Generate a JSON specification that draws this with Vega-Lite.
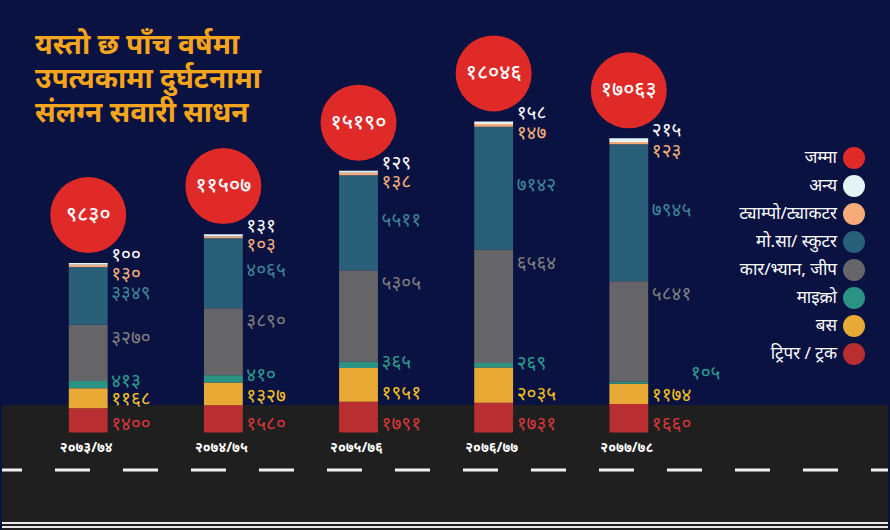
{
  "$schema": "https://vega.github.io/schema/vega-lite/v6.json",
  "width": 890,
  "height": 530,
  "autosize": {"type": "fit", "contains": "padding"},
  "padding": 0,
  "background": "#0a1242",
  "config": {
    "view": {"stroke": null},
    "font": "Noto Sans",
    "locale": {
      "number": {
        "decimal": ".",
        "thousands": ",",
        "grouping": [3],
        "currency": ["", ""],
        "numerals": ["०", "१", "२", "३", "४", "५", "६", "७", "८", "९"]
      }
    }
  },
  "title": {
    "text": ["यस्तो छ पाँच वर्षमा", "उपत्यकामा दुर्घटनामा", "संलग्न सवारी साधन"],
    "anchor": "start",
    "frame": "group",
    "orient": "top",
    "offset": -128,
    "dx": 33,
    "baseline": "top",
    "lineHeight": 34,
    "fontSize": 28,
    "fontWeight": "bold",
    "color": "#f5a51c"
  },
  "datasets": {
    "vehicles": [
      {"year": "२०७३/७४", "type": "ट्रिपर / ट्रक", "value": 1400},
      {"year": "२०७३/७४", "type": "बस", "value": 1168},
      {"year": "२०७३/७४", "type": "माइक्रो", "value": 413},
      {"year": "२०७३/७४", "type": "कार/भ्यान, जीप", "value": 3270},
      {"year": "२०७३/७४", "type": "मो.सा/ स्कुटर", "value": 3349},
      {"year": "२०७३/७४", "type": "ट्याम्पो/ट्याकटर", "value": 130},
      {"year": "२०७३/७४", "type": "अन्य", "value": 100},
      {"year": "२०७४/७५", "type": "ट्रिपर / ट्रक", "value": 1580},
      {"year": "२०७४/७५", "type": "बस", "value": 1327},
      {"year": "२०७४/७५", "type": "माइक्रो", "value": 410},
      {"year": "२०७४/७५", "type": "कार/भ्यान, जीप", "value": 3890},
      {"year": "२०७४/७५", "type": "मो.सा/ स्कुटर", "value": 4065},
      {"year": "२०७४/७५", "type": "ट्याम्पो/ट्याकटर", "value": 103},
      {"year": "२०७४/७५", "type": "अन्य", "value": 131},
      {"year": "२०७५/७६", "type": "ट्रिपर / ट्रक", "value": 1791},
      {"year": "२०७५/७६", "type": "बस", "value": 1951},
      {"year": "२०७५/७६", "type": "माइक्रो", "value": 365},
      {"year": "२०७५/७६", "type": "कार/भ्यान, जीप", "value": 5305},
      {"year": "२०७५/७६", "type": "मो.सा/ स्कुटर", "value": 5511},
      {"year": "२०७५/७६", "type": "ट्याम्पो/ट्याकटर", "value": 138},
      {"year": "२०७५/७६", "type": "अन्य", "value": 129},
      {"year": "२०७६/७७", "type": "ट्रिपर / ट्रक", "value": 1731},
      {"year": "२०७६/७७", "type": "बस", "value": 2035},
      {"year": "२०७६/७७", "type": "माइक्रो", "value": 269},
      {"year": "२०७६/७७", "type": "कार/भ्यान, जीप", "value": 6564},
      {"year": "२०७६/७७", "type": "मो.सा/ स्कुटर", "value": 7142},
      {"year": "२०७६/७७", "type": "ट्याम्पो/ट्याकटर", "value": 147},
      {"year": "२०७६/७७", "type": "अन्य", "value": 158},
      {"year": "२०७७/७८", "type": "ट्रिपर / ट्रक", "value": 1660},
      {"year": "२०७७/७८", "type": "बस", "value": 1174},
      {"year": "२०७७/७८", "type": "माइक्रो", "value": 105},
      {"year": "२०७७/७८", "type": "कार/भ्यान, जीप", "value": 5841},
      {"year": "२०७७/७८", "type": "मो.सा/ स्कुटर", "value": 7945},
      {"year": "२०७७/७८", "type": "ट्याम्पो/ट्याकटर", "value": 123},
      {"year": "२०७७/७८", "type": "अन्य", "value": 215}
    ],
    "totals": [
      {"year": "२०७३/७४", "total": 9830},
      {"year": "२०७४/७५", "total": 11507},
      {"year": "२०७५/७६", "total": 15190},
      {"year": "२०७६/७७", "total": 18046},
      {"year": "२०७७/७८", "total": 17063}
    ]
  },
  "layer": [
    {
      "data": {"values": [{}]},
      "mark": {"type": "rect", "color": "#1f1f1f"},
      "encoding": {
        "y": {"datum": 1595, "type": "quantitative", "scale": {"domain": [-5655, 25087], "nice": false, "zero": false}, "axis": null},
        "y2": {"datum": -5655}
      }
    },
    {
      "data": {"values": [{}]},
      "mark": {"type": "rule", "color": "#f2f2f2", "strokeWidth": 3, "strokeDash": [35, 33], "strokeDashOffset": 18},
      "encoding": {
        "y": {"datum": -2175, "type": "quantitative", "scale": {"domain": [-5655, 25087], "nice": false, "zero": false}, "axis": null}
      }
    },
    {
      "data": {"values": [{"edge": -5249}, {"edge": -5481}]},
      "mark": {"type": "rule", "color": "#e8e8e8", "strokeWidth": 2},
      "encoding": {
        "y": {"field": "edge", "type": "quantitative", "scale": {"domain": [-5655, 25087], "nice": false, "zero": false}, "axis": null}
      }
    },
    {
      "data": {"name": "vehicles"},
      "transform": [
        {"calculate": "indexof(['ट्रिपर / ट्रक','बस','माइक्रो','कार/भ्यान, जीप','मो.सा/ स्कुटर','ट्याम्पो/ट्याकटर','अन्य'], datum.type)", "as": "k"},
        {"stack": "value", "groupby": ["year"], "sort": [{"field": "k", "order": "ascending"}], "as": ["v0", "v1"]},
        {"calculate": "(datum.v0 + datum.v1) / 2", "as": "mid"}
      ],
      "encoding": {
        "x": {
          "field": "year", "type": "nominal", "axis": null, "sort": null,
          "scale": {"type": "band", "domain": ["२०७३/७४", "२०७४/७५", "२०७५/७६", "२०७६/७७", "२०७७/७८"], "paddingInner": 0.444, "paddingOuter": 1, "align": 0.18}
        }
      },
      "layer": [
        {
          "mark": {"type": "bar", "opacity": 1, "width": {"band": 0.517}},
          "encoding": {
            "y": {"field": "v0", "type": "quantitative", "scale": {"domain": [-5655, 25087], "nice": false, "zero": false}, "axis": null},
            "y2": {"field": "v1"},
            "color": {
              "field": "type", "type": "nominal",
              "scale": {
                "domain": ["जम्मा", "अन्य", "ट्याम्पो/ट्याकटर", "मो.सा/ स्कुटर", "कार/भ्यान, जीप", "माइक्रो", "बस", "ट्रिपर / ट्रक"],
                "range": ["#e02a28", "#e4f3f3", "#f7ab78", "#2a5f7a", "#666668", "#2a9384", "#e9a935", "#b82e31"]
              },
              "legend": {
                "title": null, "orient": "none", "legendX": 841, "legendY": 147,
                "symbolType": "circle", "symbolSize": 484, "symbolStrokeWidth": 0, "symbolOpacity": 1,
                "labelAlign": "right", "labelOffset": -28, "labelColor": "#ffffff", "labelFontSize": 17,
                "labelLimit": 300, "rowPadding": 6, "padding": 0
              }
            }
          }
        },
        {
          "transform": [{"filter": "datum.k == 0"}],
          "mark": {"type": "text", "align": "left", "baseline": "middle", "dx": 23, "dy": -9, "fontSize": 19, "color": "#d8373a"},
          "encoding": {
            "y": {"field": "v0", "type": "quantitative", "scale": {"domain": [-5655, 25087], "nice": false, "zero": false}, "axis": null},
            "text": {"field": "value", "type": "quantitative", "format": "d"}
          }
        },
        {
          "transform": [{"filter": "datum.k == 1"}],
          "mark": {"type": "text", "align": "left", "baseline": "middle", "dx": 23, "dy": -9, "fontSize": 19, "color": "#f5c21b"},
          "encoding": {
            "y": {"field": "v0", "type": "quantitative", "scale": {"domain": [-5655, 25087], "nice": false, "zero": false}, "axis": null},
            "text": {"field": "value", "type": "quantitative", "format": "d"}
          }
        },
        {
          "transform": [{"filter": "datum.k == 2 && datum.value >= 200"}],
          "mark": {"type": "text", "align": "left", "baseline": "middle", "dx": 23, "dy": 0, "fontSize": 19, "color": "#2aa08f"},
          "encoding": {
            "y": {"field": "v1", "type": "quantitative", "scale": {"domain": [-5655, 25087], "nice": false, "zero": false}, "axis": null},
            "text": {"field": "value", "type": "quantitative", "format": "d"}
          }
        },
        {
          "transform": [{"filter": "datum.k == 2 && datum.value < 200"}],
          "mark": {"type": "text", "align": "left", "baseline": "middle", "dx": 62, "dy": -9, "fontSize": 19, "color": "#2aa08f"},
          "encoding": {
            "y": {"field": "v1", "type": "quantitative", "scale": {"domain": [-5655, 25087], "nice": false, "zero": false}, "axis": null},
            "text": {"field": "value", "type": "quantitative", "format": "d"}
          }
        },
        {
          "transform": [{"filter": "datum.k == 3"}],
          "mark": {"type": "text", "align": "left", "baseline": "middle", "dx": 23, "dy": 13, "fontSize": 19, "color": "#808080"},
          "encoding": {
            "y": {"field": "v1", "type": "quantitative", "scale": {"domain": [-5655, 25087], "nice": false, "zero": false}, "axis": null},
            "text": {"field": "value", "type": "quantitative", "format": "d"}
          }
        },
        {
          "transform": [{"filter": "datum.k == 4"}],
          "mark": {"type": "text", "align": "left", "baseline": "middle", "dx": 23, "dy": -3, "fontSize": 19, "color": "#3d8797"},
          "encoding": {
            "y": {"field": "mid", "type": "quantitative", "scale": {"domain": [-5655, 25087], "nice": false, "zero": false}, "axis": null},
            "text": {"field": "value", "type": "quantitative", "format": "d"}
          }
        },
        {
          "transform": [{"filter": "datum.k == 5"}],
          "mark": {"type": "text", "align": "left", "baseline": "middle", "dx": 23, "dy": 9, "fontSize": 19, "color": "#f6b07a"},
          "encoding": {
            "y": {"field": "v1", "type": "quantitative", "scale": {"domain": [-5655, 25087], "nice": false, "zero": false}, "axis": null},
            "text": {"field": "value", "type": "quantitative", "format": "d"}
          }
        },
        {
          "transform": [{"filter": "datum.k == 6"}],
          "mark": {"type": "text", "align": "left", "baseline": "middle", "dx": 23, "dy": -8, "fontSize": 19, "color": "#ffffff"},
          "encoding": {
            "y": {"field": "v1", "type": "quantitative", "scale": {"domain": [-5655, 25087], "nice": false, "zero": false}, "axis": null},
            "text": {"field": "value", "type": "quantitative", "format": "d"}
          }
        }
      ]
    },
    {
      "data": {"name": "totals"},
      "encoding": {
        "x": {
          "field": "year", "type": "nominal", "axis": null, "sort": null,
          "scale": {"type": "band", "domain": ["२०७३/७४", "२०७४/७५", "२०७५/७६", "२०७६/७७", "२०७७/७८"], "paddingInner": 0.444, "paddingOuter": 1, "align": 0.18}
        }
      },
      "layer": [
        {
          "mark": {"type": "circle", "size": 5776, "opacity": 1, "color": "#e02a28", "yOffset": -48},
          "encoding": {
            "y": {"field": "total", "type": "quantitative", "scale": {"domain": [-5655, 25087], "nice": false, "zero": false}, "axis": null}
          }
        },
        {
          "mark": {"type": "text", "align": "center", "baseline": "middle", "dy": -48, "fontSize": 21, "fontWeight": 500, "color": "#ffffff"},
          "encoding": {
            "y": {"field": "total", "type": "quantitative", "scale": {"domain": [-5655, 25087], "nice": false, "zero": false}, "axis": null},
            "text": {"field": "total", "type": "quantitative", "format": "d"}
          }
        },
        {
          "mark": {"type": "text", "align": "center", "baseline": "middle", "dy": 15, "dx": -2, "fontSize": 14, "fontWeight": "bold", "color": "#ffffff"},
          "encoding": {
            "y": {"datum": 0, "type": "quantitative", "scale": {"domain": [-5655, 25087], "nice": false, "zero": false}, "axis": null},
            "text": {"field": "year", "type": "nominal"}
          }
        }
      ]
    }
  ]
}
